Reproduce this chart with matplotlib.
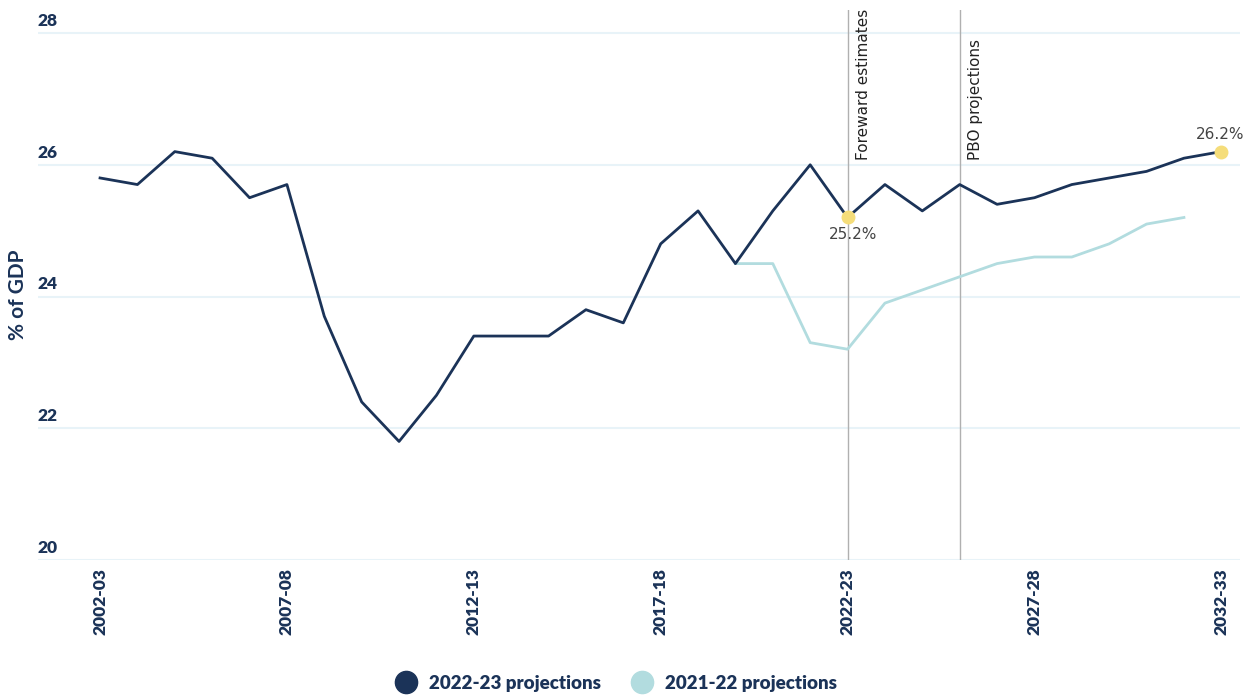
import matplotlib
matplotlib.use("Agg")
import matplotlib.pyplot as plt
import numpy as np
from matplotlib.lines import Line2D

years = ["2002-03", "2003-04", "2004-05", "2005-06", "2006-07", "2007-08", "2008-09",
         "2009-10", "2010-11", "2011-12", "2012-13", "2013-14", "2014-15", "2015-16",
         "2016-17", "2017-18", "2018-19", "2019-20", "2020-21", "2021-22", "2022-23",
         "2023-24", "2024-25", "2025-26", "2026-27", "2027-28", "2028-29", "2029-30",
         "2030-31", "2031-32", "2032-33"]

proj_2223 = [25.8, 25.7, 26.2, 26.1, 25.5, 25.7, 23.7, 22.4, 21.8, 22.5, 23.4, 23.4, 23.4,
             23.8, 23.6, 24.8, 25.3, 24.5, 25.3, 26.0, 25.2, 25.7, 25.3, 25.7, 25.4, 25.5,
             25.7, 25.8, 25.9, 26.1, 26.2]

proj_2122 = [None] * 17 + [24.5, 24.5, 23.3, 23.2, 23.9, 24.1, 24.3, 24.5, 24.6, 24.6,
                           24.8, 25.1, 25.2]

highlight_years = ["2022-23", "2032-33"]
highlight_labels = ["25.2%", "26.2%"]
vline_years = ["2022-23", "2025-26"]
vline_labels = ["Foreward estimates", "PBO projections"]
yticks = [20, 22, 24, 26, 28]

DARK = "#1b3358"
LIGHT = "#b2dcdf"
YELLOW = "#f5dd7a"
GRID = "#e8f3f8"
FONT = "Lato"

fig = plt.figure(figsize=(12.58, 6.95), dpi=100)
ax = fig.add_axes([38 / 1258, 1 - 560 / 695, (1240 - 38) / 1258, (560 - 10) / 695])

x = np.arange(len(years))
ax.set_xlim(-1.66, 30.5)
ax.set_ylim(20, 28.35)

for yt in yticks:
    ax.axhline(yt, color=GRID, lw=1.5, zorder=0)
    ax.annotate(str(yt), xy=(0, yt), xycoords=("axes fraction", "data"),
                xytext=(0, 3), textcoords="offset points", ha="left", va="bottom",
                fontsize=12.5, fontweight="heavy", color=DARK, family=FONT)

for vy, vl in zip(vline_years, vline_labels):
    xi = years.index(vy)
    ax.axvline(xi, color="#b0b0b0", lw=1, zorder=1)
    ax.text(xi + 0.22, 26.08, vl, rotation=90, ha="left", va="bottom",
            fontsize=11, color="#222222", family="DejaVu Sans")

light_x = [i for i, v in enumerate(proj_2122) if v is not None]
light_y = [v for v in proj_2122 if v is not None]
ax.plot(light_x, light_y, color=LIGHT, lw=2.0, zorder=2)
ax.plot(x, proj_2223, color=DARK, lw=2.0, zorder=3)

for hy, hl in zip(highlight_years, highlight_labels):
    xi = years.index(hy)
    yv = proj_2223[xi]
    ax.plot([xi], [yv], "o", color=YELLOW, ms=9, zorder=4)
    if hl == "25.2%":
        ax.annotate(hl, xy=(xi, yv), xytext=(4, -7), textcoords="offset points",
                    ha="center", va="top", fontsize=11, color="#444444",
                    family="DejaVu Sans")
    else:
        ax.annotate(hl, xy=(xi, yv), xytext=(-1, 7), textcoords="offset points",
                    ha="center", va="bottom", fontsize=11, color="#444444",
                    family="DejaVu Sans")

tick_idx = list(range(0, len(years), 5))
ax.set_xticks(tick_idx)
ax.set_xticklabels([years[i] for i in tick_idx], rotation=90, fontsize=12.5,
                   fontweight="heavy", color=DARK, family=FONT)
ax.tick_params(axis="x", length=0, pad=6)
ax.set_yticks([])
for s in ax.spines.values():
    s.set_visible(False)

fig.text(18 / 1258, 1 - 295 / 695, "% of GDP", rotation=90, ha="center", va="center",
         fontsize=15, fontweight="bold", color=DARK, family=FONT)

handles = [Line2D([], [], ls="", marker="o", ms=16, color=DARK),
           Line2D([], [], ls="", marker="o", ms=16, color=LIGHT)]
leg = fig.legend(handles, ["2022-23 projections", "2021-22 projections"],
                 loc="center", bbox_to_anchor=(614 / 1258, 1 - 683 / 695), ncol=2,
                 frameon=False, handletextpad=0.4, columnspacing=1.4, handlelength=1.6,
                 prop={"family": FONT, "weight": "heavy", "size": 13.5})
for t in leg.get_texts():
    t.set_color(DARK)

fig.savefig("out.png", dpi=100)
